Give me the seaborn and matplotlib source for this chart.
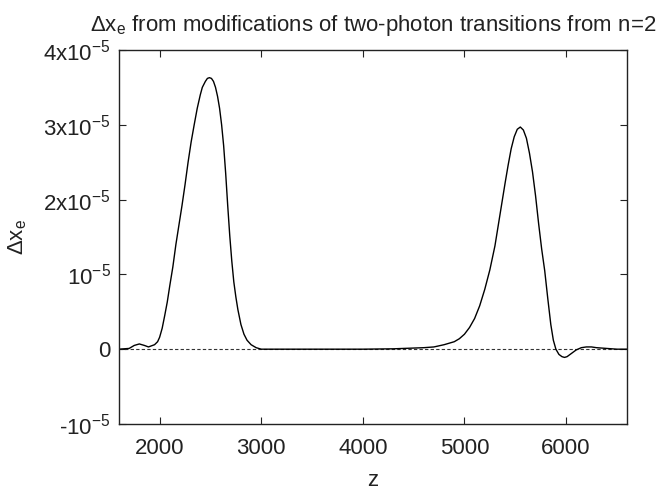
import matplotlib
matplotlib.use("Agg")
import matplotlib.pyplot as plt
import pandas as pd
import seaborn as sns

# ── data (dx in units of 1e-5) ───────────────────────────────────────────
z = [1600, 1700, 1750, 1800, 1850, 1890, 1950, 1980, 2000, 2025,
     2050, 2075, 2100, 2130, 2160, 2190, 2220, 2250, 2280, 2310,
     2340, 2370, 2400, 2420, 2450, 2470, 2490, 2510, 2530, 2550,
     2570, 2590, 2610, 2630, 2650, 2670, 2690, 2710, 2730, 2750,
     2770, 2800, 2830, 2860, 2900, 2950, 3000, 3500, 4000, 4300,
     4500, 4600, 4700, 4800, 4900, 4950, 5000, 5050, 5100, 5150,
     5200, 5250, 5300, 5350, 5400, 5430, 5460, 5490, 5520, 5550,
     5580, 5610, 5640, 5670, 5700, 5730, 5760, 5790, 5820, 5850,
     5875, 5900, 5930, 5960, 5985, 6010, 6050, 6100, 6150, 6200,
     6250, 6300, 6400, 6500, 6600]
dx = [0.0, 0.01, 0.05, 0.07, 0.05, 0.03, 0.06, 0.10, 0.16, 0.28,
      0.45, 0.63, 0.85, 1.10, 1.40, 1.66, 1.92, 2.20, 2.50, 2.77,
      3.00, 3.22, 3.40, 3.50, 3.58, 3.62, 3.63, 3.62, 3.58, 3.50,
      3.38, 3.22, 3.00, 2.72, 2.35, 1.92, 1.52, 1.18, 0.90, 0.70,
      0.53, 0.33, 0.20, 0.12, 0.06, 0.02, 0.0, 0.0, 0.0, 0.005,
      0.015, 0.02, 0.03, 0.06, 0.10, 0.14, 0.20, 0.29, 0.41, 0.58,
      0.80, 1.06, 1.38, 1.80, 2.22, 2.46, 2.68, 2.84, 2.94, 2.97,
      2.93, 2.82, 2.62, 2.37, 2.05, 1.68, 1.34, 1.05, 0.68, 0.33,
      0.12, 0.0, -0.07, -0.10, -0.11, -0.10, -0.06, -0.01, 0.02, 0.03,
      0.03, 0.02, 0.01, 0.0, 0.0]

yticks = [-1, 0, 1, 2, 3, 4]
ytick_labels = ["-10$^{-5}$", "0", "10$^{-5}$", "2x10$^{-5}$",
                "3x10$^{-5}$", "4x10$^{-5}$"]
xticks = [2000, 3000, 4000, 5000, 6000]

df = pd.DataFrame({"z": z, "dx": dx})

sns.set_theme(style="ticks")
plt.rcParams["font.family"] = ["Liberation Sans", "DejaVu Sans"]
plt.rcParams["mathtext.fontset"] = "custom"
plt.rcParams["mathtext.rm"] = "Liberation Sans"
plt.rcParams["mathtext.it"] = "Liberation Sans:italic"
plt.rcParams["mathtext.default"] = "regular"

fig = plt.figure(figsize=(6.56, 4.93), dpi=100)
ax = fig.add_axes([0.1814, 0.140, 0.7744, 0.7586])

ax.axhline(0, color="#333333", linestyle=(0, (3, 2)), linewidth=0.8)
sns.lineplot(data=df, x="z", y="dx", ax=ax, color="black", linewidth=1.0)

ax.set_xlim(1600, 6600)
ax.set_ylim(-1, 4)
ax.set_xticks(xticks)
ax.set_yticks(yticks)
ax.set_yticklabels(ytick_labels)
ax.tick_params(direction="in", length=5, width=0.8, labelsize=16,
               top=True, right=True, colors="#222222")
ax.tick_params(axis="x", pad=10)
ax.tick_params(axis="y", pad=6)
for s in ax.spines.values():
    s.set_linewidth(1.0)
    s.set_color("#222222")

ax.set_xlabel("z", fontsize=16, labelpad=8, color="#222222")
ax.set_ylabel("Δx$_e$", fontsize=16, labelpad=10, color="#222222")
ax.set_title("Δx$_e$ from modifications of two-photon transitions from n=2",
             fontsize=16, pad=14, color="#222222")

fig.savefig("out.png", dpi=100)
